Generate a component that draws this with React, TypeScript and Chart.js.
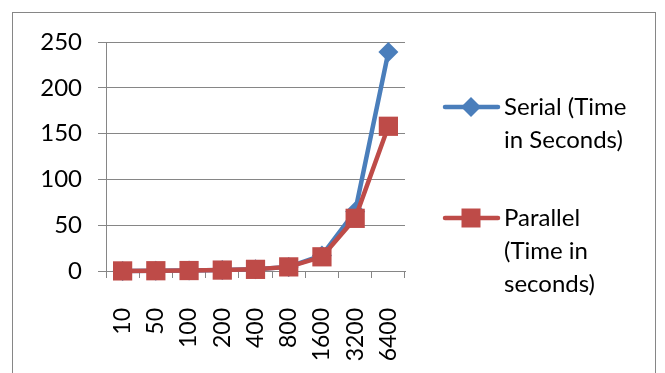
import React, { useEffect, useRef } from "react";
import { Chart, registerables } from "chart.js";

Chart.register(...registerables);

const categories = ["10", "50", "100", "200", "400", "800", "1600", "3200", "6400"];
const serialValues = [0.1, 0.3, 0.5, 1, 2, 4.5, 17, 65, 239];
const parallelValues = [0.1, 0.3, 0.5, 1, 1.8, 4.5, 15.5, 57.5, 158];
const serialLabel = ["Serial (Time", "in Seconds)"];
const parallelLabel = ["Parallel", "(Time in", "seconds)"];
const yTicks = [0, 50, 100, 150, 200, 250];

const BLUE = "#4A7EBB";
const RED = "#BE4B48";
const GRID = "#868686";
const FONT = "Lato, 'Open Sans', sans-serif";

const legendPlugin = {
  id: "customLegend",
  afterDraw(chart: any) {
    const ctx = chart.ctx;
    const items = [
      { lines: serialLabel, color: BLUE, style: "diamond", y: 107 },
      { lines: parallelLabel, color: RED, style: "square", y: 218 },
    ];
    ctx.save();
    for (const it of items) {
      ctx.strokeStyle = it.color;
      ctx.fillStyle = it.color;
      ctx.lineWidth = 4.5;
      ctx.lineCap = "round";
      ctx.beginPath();
      ctx.moveTo(445, it.y);
      ctx.lineTo(498, it.y);
      ctx.stroke();
      const cx = 471;
      ctx.beginPath();
      if (it.style === "diamond") {
        const r = 10;
        ctx.moveTo(cx - r, it.y);
        ctx.lineTo(cx, it.y - r);
        ctx.lineTo(cx + r, it.y);
        ctx.lineTo(cx, it.y + r);
        ctx.closePath();
      } else {
        const s = 9.5;
        ctx.rect(cx - s, it.y - s, 2 * s, 2 * s);
      }
      ctx.fill();
      ctx.fillStyle = "#000";
      ctx.font = `24px ${FONT}`;
      ctx.textAlign = "left";
      ctx.textBaseline = "middle";
      it.lines.forEach((t, i) => {
        ctx.fillText(t, 504, it.y + i * 33);
      });
    }
    ctx.restore();
  },
};

export default function App() {
  const ref = useRef<HTMLCanvasElement | null>(null);
  useEffect(() => {
    if (!ref.current) return;
    const chart = new Chart(ref.current, {
      type: "line",
      data: {
        labels: categories,
        datasets: [
          {
            label: serialLabel.join(" "),
            data: serialValues,
            borderColor: BLUE,
            backgroundColor: BLUE,
            borderWidth: 4.5,
            pointStyle: "rectRot",
            pointRadius: 10,
            pointBorderWidth: 0,
            tension: 0,
            clip: false,
            order: 1,
          },
          {
            label: parallelLabel.join(" "),
            data: parallelValues,
            borderColor: RED,
            backgroundColor: RED,
            borderWidth: 4.5,
            pointStyle: "rect",
            pointRadius: 13.6,
            pointBorderWidth: 0,
            tension: 0,
            clip: false,
            order: 0,
          },
        ],
      },
      options: {
        animation: false,
        responsive: true,
        maintainAspectRatio: false,
        layout: { padding: { left: 0, top: 42, right: 260, bottom: 0 } },
        plugins: { legend: { display: false }, tooltip: { enabled: false } },
        scales: {
          x: {
            type: "category",
            offset: true,
            grid: {
              display: true,
              drawOnChartArea: false,
              drawTicks: true,
              tickLength: 7,
              color: GRID,
              offset: true,
            },
            border: { display: true, color: GRID, width: 1 },
            ticks: {
              minRotation: 90,
              maxRotation: 90,
              padding: 30,
              color: "#000",
              font: { family: FONT, size: 23 },
              autoSkip: false,
            },
            afterFit(scale: any) {
              scale.height = 102;
            },
          },
          y: {
            min: 0,
            max: 250,
            afterBuildTicks(scale: any) {
              scale.ticks = yTicks.map((v) => ({ value: v }));
            },
            grid: { color: GRID, tickLength: 8, lineWidth: 1 },
            border: { display: true, color: GRID, width: 1 },
            ticks: {
              padding: 16,
              color: "#000",
              font: { family: FONT, size: 24 },
            },
            afterFit(scale: any) {
              scale.width = 106;
            },
          },
        },
      },
      plugins: [legendPlugin],
    });
    return () => chart.destroy();
  }, []);

  return (
    <div style={{ position: "fixed", left: 0, top: 0, width: 665, height: 373, background: "#fff", overflow: "hidden" }}>
      <div
        style={{
          position: "absolute",
          left: 12,
          top: 12,
          width: 644,
          height: 420,
          border: `1px solid ${GRID}`,
          boxSizing: "border-box",
        }}
      />
      <div style={{ position: "absolute", left: 0, top: 0, width: 665, height: 373 }}>
        <canvas ref={ref} />
      </div>
    </div>
  );
}
